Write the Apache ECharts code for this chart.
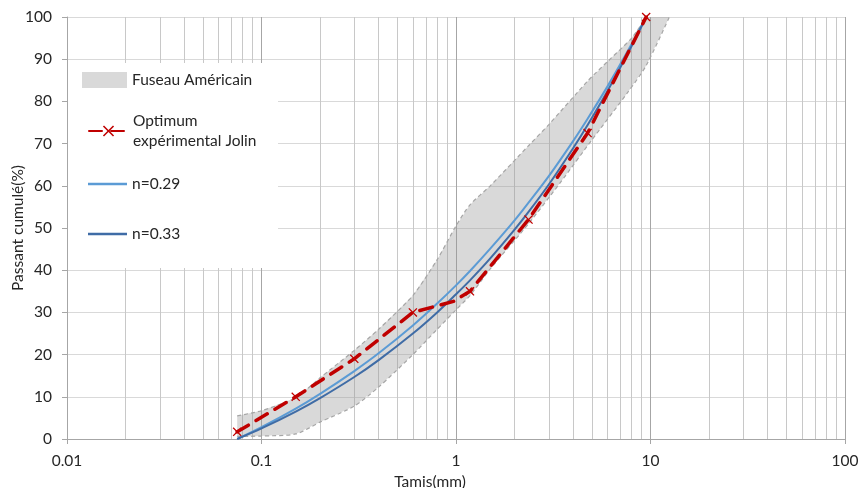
<!DOCTYPE html>
<html>
<head>
<meta charset="utf-8">
<script src="https://cdn.jsdelivr.net/npm/echarts@6/dist/echarts.min.js"></script>
<style>html,body{margin:0;padding:0;background:#fff}#c{width:858px;height:488px}</style>
</head>
<body>
<div id="c"></div>
<script>
// ---- data ----
const xTickLabels = ['0.01', '0.1', '1', '10', '100'];
const minorGridX = [0.02,0.03,0.04,0.05,0.06,0.07,0.08,0.09,
                    0.2,0.3,0.4,0.5,0.6,0.7,0.8,0.9,
                    2,3,4,5,6,7,8,9,
                    20,30,40,50,60,70,80,90];

const bandUpperX = [0.075, 0.1, 0.15, 0.2, 0.3, 0.4, 0.6, 0.8, 1.0, 1.18, 1.5, 2.36, 3, 4.75, 6, 8, 9.5, 12.5];
const bandUpperY = [5.5, 6.7, 9.8, 14.5, 21, 26, 34, 42.5, 50.5, 55.5, 60, 69.5, 74.5, 84.8, 89.4, 95, 100, 100];
const bandLowerX = [0.075, 0.1, 0.15, 0.2, 0.3, 0.4, 0.6, 0.8, 1.0, 1.18, 1.5, 2.36, 3.43, 5, 7.6, 9.5, 12.5];
const bandLowerY = [0.6, 0.7, 1.2, 4.0, 7.8, 12.3, 20, 26, 30.6, 34, 40.3, 51, 60.7, 70.9, 82, 88.5, 100];

const optX = [0.075, 0.15, 0.3, 0.6, 0.97, 1.18, 2.36, 4.75, 9.5];
const optY = [1.7, 10, 19, 30, 32.6, 35, 52, 72.5, 100];
const optNoMarker = [false, false, false, false, true, false, false, false, false];

const curveX = [0.075, 0.1, 0.15, 0.2, 0.3, 0.4, 0.6, 0.8, 1, 1.18, 1.5, 2, 2.36, 3, 4, 4.75, 6, 8, 9.5];
const n029Y = [0, 2.8, 7.2, 10.7, 16.1, 20.3, 26.9, 32.1, 36.4, 39.8, 45.1, 51.8, 56.0, 62.3, 70.6, 75.9, 83.5, 93.6, 100];
const n033Y = [0, 2.5, 6.5, 9.7, 14.7, 18.7, 25.0, 30.0, 34.3, 37.6, 42.8, 49.6, 53.8, 60.3, 68.9, 74.4, 82.4, 93.1, 100];

// ---- helpers ----
const zip = (xs, ys) => xs.map((x, i) => [x, ys[i]]);
const FONT = 'Lato';
const FS = 15.5;
const TXT = '#262626';
const crossPath = 'path://M0,1 L1,0 L5,4 L9,0 L10,1 L6,5 L10,9 L9,10 L5,6 L1,10 L0,9 L4,5 Z';

const chart = echarts.init(document.getElementById('c'));
const legendText = { color: TXT, fontSize: FS, fontFamily: FONT };

chart.setOption({
  animation: false,
  backgroundColor: '#fff',
  grid: { left: 67, right: 13, top: 17, bottom: 49, containLabel: false, outerBoundsMode: 'none' },
  xAxis: {
    type: 'log', logBase: 10, min: 0.01, max: 100,
    name: 'Tamis(mm)', nameLocation: 'middle', nameGap: 31,
    nameTextStyle: { color: TXT, fontSize: FS, fontFamily: FONT, padding: [0, 52, 0, 0] },
    axisLine: { show: true, lineStyle: { color: '#a6a6a6', width: 1 } },
    axisTick: { show: true, length: 5, lineStyle: { color: '#a6a6a6' } },
    axisLabel: {
      color: TXT, fontSize: FS, fontFamily: FONT, margin: 14,
      formatter: v => { const i = Math.round(Math.log10(v)) + 2; return xTickLabels[i] !== undefined ? xTickLabels[i] : ''; }
    },
    splitLine: { show: true, lineStyle: { color: '#a6a6a6', width: 1 } },
    minorTick: { show: false }, minorSplitLine: { show: false }
  },
  yAxis: {
    type: 'value', min: 0, max: 100, interval: 10,
    name: 'Passant cumulé(%)', nameLocation: 'middle', nameGap: 41, nameMoveOverlap: false,
    nameTextStyle: { color: TXT, fontSize: FS, fontFamily: FONT },
    axisLine: { show: true, lineStyle: { color: '#a6a6a6', width: 1 } },
    axisTick: { show: true, length: 5, lineStyle: { color: '#a6a6a6' } },
    axisLabel: { color: TXT, fontSize: FS, fontFamily: FONT, margin: 15 },
    splitLine: { show: true, lineStyle: { color: '#d9d9d9', width: 1 } }
  },
  graphic: [{
    type: 'rect', z: 3, silent: true,
    shape: { x: 68, y: 63, width: 210, height: 205 },
    style: { fill: '#ffffff' }
  }],
  legend: [
    { data: ['Fuseau Américain'], left: 82, top: 72, padding: 0, itemWidth: 45, itemHeight: 16,
      icon: 'rect', selectedMode: false, z: 5, textStyle: Object.assign({ lineHeight: 16 }, legendText) },
    { data: ['Optimum expérimental Jolin'], left: 88, top: 101, padding: 0, itemWidth: 39, itemHeight: 14,
      selectedMode: false, z: 5, formatter: n => n.replace(' ', '\n'),
      textStyle: Object.assign({ lineHeight: 20, padding: [20, 0, 0, 0] }, legendText) },
    { data: ['n=0.29'], left: 88, top: 176, padding: 0, itemWidth: 39, itemHeight: 2.5, icon: 'rect',
      selectedMode: false, z: 5, textStyle: Object.assign({ lineHeight: 14 }, legendText) },
    { data: ['n=0.33'], left: 88, top: 226, padding: 0, itemWidth: 39, itemHeight: 2.5, icon: 'rect',
      selectedMode: false, z: 5, textStyle: Object.assign({ lineHeight: 14 }, legendText) }
  ],
  series: [
    { // minor vertical gridlines
      type: 'line', name: '_grid', data: [], z: 1, silent: true,
      markLine: {
        silent: true, symbol: ['none', 'none'], animation: false, z: 1,
        label: { show: false },
        lineStyle: { type: 'solid', color: '#c8c8c8', width: 1 },
        data: minorGridX.map(v => ({ xAxis: v }))
      }
    },
    {
      type: 'custom', name: 'Fuseau Américain', coordinateSystem: 'cartesian2d', z: 2,
      data: [[bandUpperX[0], bandUpperY[0]]], encode: { x: 0, y: 1 }, clip: true, silent: true,
      itemStyle: { color: '#d9d9d9' },
      renderItem: (params, api) => {
        const pts = [];
        for (let i = 0; i < bandUpperX.length; i++) pts.push(api.coord([bandUpperX[i], bandUpperY[i]]));
        for (let i = bandLowerX.length - 1; i >= 0; i--) pts.push(api.coord([bandLowerX[i], bandLowerY[i]]));
        return { type: 'polygon', shape: { points: pts }, style: { fill: 'rgba(150,150,150,0.36)' } };
      }
    },
    { type: 'line', name: '_upper', data: zip(bandUpperX.slice(0, 17), bandUpperY.slice(0, 17)), z: 3,
      smooth: 0.25, symbol: 'none', silent: true,
      lineStyle: { color: '#a6a6a6', width: 1.2, type: [4, 3] } },
    { type: 'line', name: '_lower', data: zip(bandLowerX, bandLowerY), z: 3,
      smooth: 0.25, symbol: 'none', silent: true,
      lineStyle: { color: '#a6a6a6', width: 1.2, type: [4, 3] } },
    { type: 'line', name: 'n=0.29', data: zip(curveX, n029Y), z: 4, smooth: 0.3, symbol: 'none',
      itemStyle: { color: '#5b9bd5' }, lineStyle: { color: '#5b9bd5', width: 2 } },
    { type: 'line', name: 'n=0.33', data: zip(curveX, n033Y), z: 4, smooth: 0.3, symbol: 'none',
      itemStyle: { color: '#3f6ca6' }, lineStyle: { color: '#3f6ca6', width: 2 } },
    { type: 'line', name: 'Optimum expérimental Jolin', z: 5,
      data: optX.map((x, i) => optNoMarker[i] ? { value: [x, optY[i]], symbol: 'none' } : [x, optY[i]]),
      symbol: crossPath, symbolSize: 9, showSymbol: true,
      itemStyle: { color: '#c00000' },
      lineStyle: { color: '#c00000', width: 3.5, type: [13, 9], cap: 'round' } }
  ]
});
</script>
</body>
</html>
